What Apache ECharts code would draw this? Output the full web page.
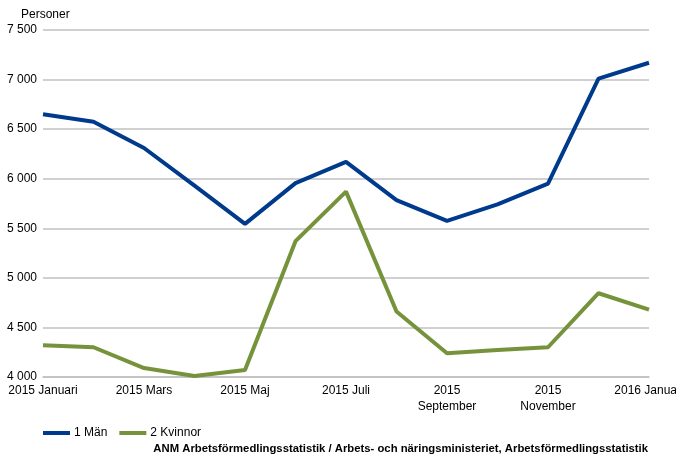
<!DOCTYPE html>
<html>
<head>
<meta charset="utf-8">
<script src="https://cdn.jsdelivr.net/npm/echarts@6/dist/echarts.min.js"></script>
<style>
  html, body { margin: 0; padding: 0; background: #fff; }
  #chart { width: 676px; height: 456px; }
</style>
</head>
<body>
<div id="chart"></div>
<script>
const months = [
  '2015 Januari', '2015 Februari', '2015 Mars', '2015 April', '2015 Maj', '2015 Juni',
  '2015 Juli', '2015 Augusti', '2015\nSeptember', '2015 Oktober', '2015\nNovember',
  '2015 December', '2016 Januari'
]
const man = [6650, 6575, 6310, 5930, 5545, 5955, 6170, 5785, 5575, 5742, 5950, 7010, 7170]
const kvinnor = [4320, 4300, 4090, 4010, 4070, 5370, 5870, 4660, 4240, 4272, 4300, 4845, 4680]
const yTicks = { min: 4000, max: 7500, interval: 500 }
const source = 'ANM Arbetsförmedlingsstatistik / Arbets- och näringsministeriet, Arbetsförmedlingsstatistik'

const font = 'Liberation Sans, Arial, sans-serif'
const chart = echarts.init(document.getElementById('chart'))

const lineOpts = {
  type: 'line',
  symbol: 'none',
  smooth: false,
  animation: false
}

chart.setOption({
  textStyle: { fontFamily: font },
  grid: { left: 43, right: 27, top: 30, bottom: 79, containLabel: false, outerBoundsMode: 'none' },
  legend: {
    left: 38,
    top: 422,
    itemWidth: 27,
    itemHeight: 4,
    itemGap: 12,
    icon: 'rect',
    textStyle: { fontSize: 12, color: '#000', fontFamily: font, padding: [0, 0, 0, -1] },
    data: ['1 Män', '2 Kvinnor']
  },
  xAxis: {
    type: 'category',
    boundaryGap: false,
    data: months,
    axisTick: { show: false },
    axisLine: { lineStyle: { color: '#c0c0c0', width: 1.5 } },
    axisLabel: {
      interval: 1,
      color: '#000',
      fontSize: 12,
      fontFamily: font,
      margin: 6,
      lineHeight: 16,
      hideOverlap: false
    }
  },
  yAxis: {
    type: 'value',
    min: yTicks.min,
    max: yTicks.max,
    interval: yTicks.interval,
    axisLine: { show: false },
    axisTick: { show: false },
    splitLine: { lineStyle: { color: '#c0c0c0', width: 1.5 } },
    axisLabel: {
      color: '#000',
      fontSize: 12,
      fontFamily: font,
      margin: 6,
      formatter: v => String(v).replace(/\B(?=(\d{3})+(?!\d))/g, ' ')
    }
  },
  graphic: [
    {
      type: 'text',
      left: 21,
      top: 9,
      style: { text: 'Personer', font: '12px ' + font, fill: '#000' }
    },
    {
      type: 'text',
      right: 28,
      top: 443,
      style: { text: source, font: 'bold 11.3px ' + font, fill: '#000' }
    }
  ],
  series: [
    Object.assign({ name: '1 Män', data: man, color: '#003a8c', lineStyle: { width: 4, color: '#003a8c' } }, lineOpts),
    Object.assign({ name: '2 Kvinnor', data: kvinnor, color: '#76933c', lineStyle: { width: 4, color: '#76933c' } }, lineOpts)
  ]
})
</script>
</body>
</html>
